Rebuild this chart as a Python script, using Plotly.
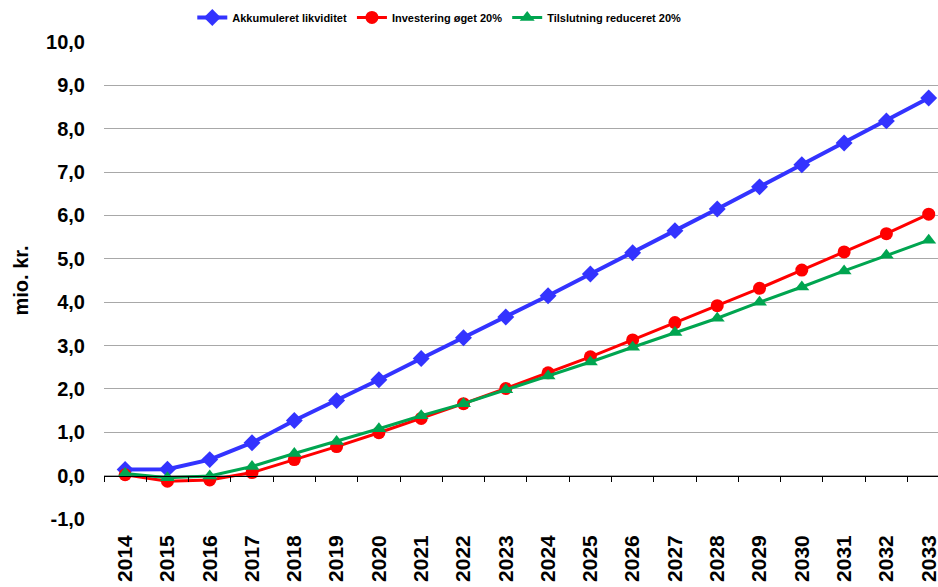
import plotly.graph_objects as go

years = [str(y) for y in range(2014, 2034)]
akkumuleret = [0.14, 0.15, 0.37, 0.76, 1.27, 1.73, 2.21, 2.70, 3.18, 3.66,
               4.15, 4.65, 5.14, 5.65, 6.15, 6.66, 7.17, 7.67, 8.18, 8.71]
investering = [0.02, -0.13, -0.10, 0.07, 0.37, 0.67, 0.99, 1.32, 1.66, 2.01,
               2.37, 2.74, 3.13, 3.53, 3.92, 4.32, 4.74, 5.16, 5.58, 6.03]
tilslutning = [0.05, -0.05, -0.01, 0.21, 0.51, 0.79, 1.08, 1.38, 1.66, 1.98,
               2.30, 2.62, 2.96, 3.30, 3.63, 4.00, 4.35, 4.72, 5.08, 5.43]
y_ticks = [-1, 0, 1, 2, 3, 4, 5, 6, 7, 8, 9, 10]
y_ticktext = [f"{v:.1f}".replace(".", ",") for v in y_ticks]

FONT = "Liberation Sans, Arial, sans-serif"
xr = [-0.5, 19.22]
yr = [-1, 10]

fig = go.Figure()
fig.add_trace(go.Scatter(x=years, y=akkumuleret, name="Akkumuleret likviditet",
                         mode="lines+markers",
                         line=dict(color="#3333FF", width=4),
                         marker=dict(symbol="diamond", size=13, color="#3333FF")))
fig.add_trace(go.Scatter(x=years, y=investering, name="Investering øget 20%",
                         mode="lines+markers",
                         line=dict(color="#FF0000", width=3),
                         marker=dict(symbol="circle", size=13, color="#FF0000")))
fig.add_trace(go.Scatter(x=years, y=tilslutning, name="Tilslutning reduceret 20%",
                         mode="lines+markers",
                         line=dict(color="#00A550", width=3),
                         marker=dict(symbol="triangle-up", size=13, color="#00A550")))
# invisible helper trace for the zero-line axis with boundary ticks
fig.add_trace(go.Scatter(x=list(range(len(years))), y=[None] * len(years),
                         xaxis="x2", showlegend=False, hoverinfo="skip",
                         mode="lines"))

fig.update_layout(
    width=938, height=587,
    margin=dict(l=104, r=0, t=42, b=68, autoexpand=False),
    paper_bgcolor="white", plot_bgcolor="white",
    font=dict(family=FONT, color="black"),
    showlegend=True,
    legend=dict(orientation="h", xref="container", yref="container",
                x=0.205, xanchor="left", y=0.995, yanchor="top",
                font=dict(family=FONT, size=11, weight="bold"),
                itemwidth=30, tracegroupgap=0),
    xaxis=dict(type="category", range=xr, showline=False, ticks="",
               showgrid=False, zeroline=False, tickangle=-90,
               automargin=False, ticklabelstandoff=11,
               tickfont=dict(family=FONT, size=21, weight="bold")),
    xaxis2=dict(overlaying="x", anchor="free",
                position=(0 - yr[0]) / (yr[1] - yr[0]),
                range=xr, showline=True, linecolor="black", linewidth=1,
                ticks="outside", ticklen=5, tickcolor="black", tickwidth=1,
                tickmode="linear", tick0=-0.5, dtick=1, automargin=False,
                showticklabels=False, showgrid=False, zeroline=False),
    yaxis=dict(range=yr, tickmode="array", tickvals=y_ticks, ticktext=y_ticktext,
               showgrid=True, gridcolor="#A8A8A8", gridwidth=1,
               zeroline=False, showline=False, ticks="",
               ticklabelstandoff=18, automargin=False,
               tickfont=dict(family=FONT, size=20, weight="bold"),
               title=dict(text="mio. kr.", standoff=12,
                          font=dict(family=FONT, size=20, weight="bold"))),
)

fig.write_html("out.html",
               config={"displayModeBar": False},
               post_script="document.body.style.margin='0';"
                           "document.body.style.overflow='hidden';")
